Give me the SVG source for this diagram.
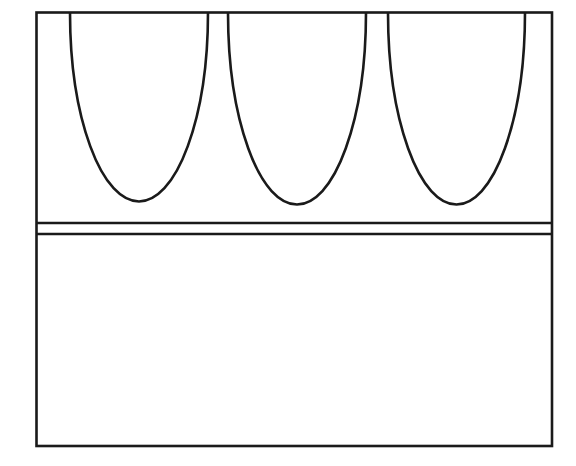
<svg xmlns="http://www.w3.org/2000/svg" width="576" height="466" viewBox="0 0 576 466">
<style>
.s{fill:none;stroke:#1a1a1a;stroke-width:2.6;}
</style>
<rect width="576" height="466" fill="#fff"/>
<g id="frame">
<rect class="s" x="36.5" y="12.5" width="515.5" height="433.5"/>
<line class="s" x1="36.5" y1="223" x2="552" y2="223"/>
<line class="s" x1="36.5" y1="234" x2="552" y2="234"/>
</g>
<g id="u1"><path class="s" d="M70,12.5 A69,189 0 0 0 208,12.5"/></g>
<g id="u2"><path class="s" d="M228,12.5 A69,192 0 0 0 366,12.5"/></g>
<g id="u3"><path class="s" d="M388,12.5 A68.5,192 0 0 0 525,12.5"/></g>
</svg>
